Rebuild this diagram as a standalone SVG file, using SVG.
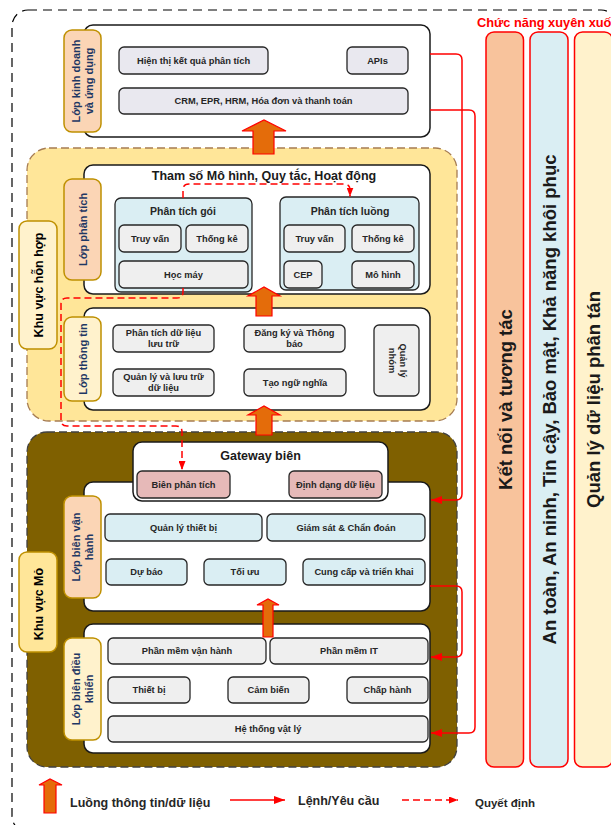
<svg xmlns="http://www.w3.org/2000/svg" width="611" height="825" viewBox="0 0 611 825">
<defs>
<style>
.layer{fill:#fff;stroke:#1a1a1a;stroke-width:1.5}
.lp{fill:#FBD5B5;stroke:#BF9000;stroke-width:1.5}
.ly{fill:#FFF2CC;stroke:#BF9000;stroke-width:1.5}
.lz{fill:#FFE699;stroke:#BF9000;stroke-width:1.5}
.box{fill:#EFEFEF;stroke:#262626;stroke-width:1.3}
.boxl{fill:#E9E8EF;stroke:#262626;stroke-width:1.3}
.boxb{fill:#DAEEF3;stroke:#262626;stroke-width:1.3}
.boxp{fill:#E6B9B8;stroke:#262626;stroke-width:1.3}
text{font-family:"Liberation Sans",Arial,sans-serif;font-weight:bold}
.t{font-size:9.3px;fill:#262626;text-anchor:middle}
.st{font-size:10.5px;fill:#262626;text-anchor:middle}
.ht{font-size:12.5px;fill:#1a1a1a;text-anchor:middle}
.lt{font-size:11px;fill:#1F3864;text-anchor:middle}
.zt{font-size:12.5px;fill:#000;text-anchor:middle}
.ct{font-size:18.5px;fill:#1a1a1a;text-anchor:middle}
.leg{font-size:12.5px;fill:#262626}
.flow{fill:#E46C0A;stroke:#FF0000;stroke-width:1.2}
.cmd{fill:none;stroke:#FF0000;stroke-width:1.5}
.dec{fill:none;stroke:#FF0000;stroke-width:1.5;stroke-dasharray:7 4}
.col{stroke:#FF0000;stroke-width:1.5}
</style>
<marker id="ah" markerWidth="11" markerHeight="8" refX="11" refY="4" orient="auto" markerUnits="userSpaceOnUse"><path d="M0,0 L11,4 L0,8 Z" fill="#FF0000"/></marker>
<marker id="ahd" markerWidth="9" markerHeight="7" refX="9" refY="3.5" orient="auto" markerUnits="userSpaceOnUse"><path d="M0,0 L9,3.5 L0,7 Z" fill="#FF0000"/></marker>
</defs>

<rect x="12" y="10" width="605" height="822" rx="16" fill="none" stroke="#000" stroke-width="1.2" stroke-dasharray="9 6"/>

<!-- zones -->
<g id="zone-hybrid">
<rect x="27" y="148" width="430" height="273" rx="22" fill="#FFE699" stroke="#A67C52" stroke-width="1.3" stroke-dasharray="8 4"/>
</g>
<g id="zone-mine">
<rect x="27" y="432" width="430" height="335" rx="20" fill="#7F6000" stroke="#404040" stroke-width="1.3" stroke-dasharray="8 4"/>
</g>
<g id="label-hybrid">
<rect x="19" y="221" width="38" height="128" rx="8" class="ly"/>
<text class="zt" transform="translate(38,285) rotate(-90)" y="4.5">Khu vực hỗn hợp</text>
</g>
<g id="label-mine">
<rect x="19" y="552" width="38" height="100" rx="8" class="lz"/>
<text class="zt" transform="translate(38,604) rotate(-90)" y="4.5">Khu vực Mỏ</text>
</g>

<!-- business layer -->
<g id="layer-business">
<rect x="84" y="25" width="346" height="112" rx="9" class="layer"/>
<rect x="64" y="30" width="37" height="102" rx="8" class="lp"/>
<text class="lt" transform="translate(82.5,81) rotate(-90)"><tspan x="0" y="-2.3">Lớp kinh doanh</tspan><tspan x="0" y="10.2">và ứng dụng</tspan></text>
</g>
<g id="n-hienthi"><rect x="119" y="47" width="149" height="27" rx="5" class="boxl"/><text class="t" x="193.5" y="63.8">Hiện thị kết quả phân tích</text></g>
<g id="n-apis"><rect x="347" y="47" width="61" height="27" rx="5" class="boxl"/><text class="t" x="377.5" y="63.8">APIs</text></g>
<g id="n-crm"><rect x="119" y="88" width="289" height="26" rx="5" class="boxl"/><text class="t" x="263.5" y="104.3">CRM, EPR, HRM, Hóa đơn và thanh toán</text></g>

<!-- analytics layer -->
<g id="layer-analytics">
<rect x="84" y="165" width="346" height="129" rx="9" class="layer"/>
<rect x="64" y="179" width="37" height="101" rx="8" class="lp"/>
<text class="lt" transform="translate(82.5,229.5) rotate(-90)" y="4">Lớp phân tích</text>
<text class="ht" x="264" y="180">Tham số Mô hình, Quy tắc, Hoạt động</text>
</g>
<g id="n-goi">
<rect x="115" y="198" width="137" height="94" rx="6" class="boxb"/>
<text class="st" x="183" y="215">Phân tích gói</text>
</g>
<g id="n-goi-truyvan"><rect x="119" y="225" width="62" height="27" rx="5" class="box"/><text class="t" x="150" y="241.8">Truy vấn</text></g>
<g id="n-goi-thongke"><rect x="186" y="225" width="62" height="27" rx="5" class="box"/><text class="t" x="217" y="241.8">Thống kê</text></g>
<g id="n-hocmay"><rect x="119" y="261" width="129" height="27" rx="5" class="box"/><text class="t" x="183.5" y="277.8">Học máy</text></g>
<g id="n-luong">
<rect x="280" y="197" width="139" height="93" rx="6" class="boxb"/>
<text class="st" x="350" y="215">Phân tích luồng</text>
</g>
<g id="n-luong-truyvan"><rect x="284" y="225" width="61" height="27" rx="5" class="box"/><text class="t" x="314.5" y="241.8">Truy vấn</text></g>
<g id="n-luong-thongke"><rect x="352" y="225" width="62" height="27" rx="5" class="box"/><text class="t" x="383" y="241.8">Thống kê</text></g>
<g id="n-cep"><rect x="284" y="261" width="38" height="27" rx="5" class="box"/><text class="t" x="303" y="277.8">CEP</text></g>
<g id="n-mohinh"><rect x="352" y="261" width="62" height="27" rx="5" class="box"/><text class="t" x="383" y="277.8">Mô hình</text></g>

<!-- information layer -->
<g id="layer-info">
<rect x="84" y="308" width="346" height="102" rx="9" class="layer"/>
<rect x="64" y="317" width="37" height="84" rx="8" class="ly"/>
<text class="lt" transform="translate(82.5,359) rotate(-90)" y="4">Lớp thông tin</text>
</g>
<g id="n-ptdl"><rect x="113" y="325" width="101" height="27" rx="5" class="box"/><text class="t"><tspan x="163.5" y="335.5">Phân tích dữ liệu</tspan><tspan x="163.5" y="346.5">lưu trữ</tspan></text></g>
<g id="n-dangky"><rect x="244" y="325" width="101" height="27" rx="5" class="box"/><text class="t"><tspan x="294.5" y="335.5">Đăng ký và Thông</tspan><tspan x="294.5" y="346.5">báo</tspan></text></g>
<g id="n-qlluutru"><rect x="113" y="369" width="101" height="27" rx="5" class="box"/><text class="t"><tspan x="163.5" y="379.5">Quản lý và lưu trữ</tspan><tspan x="163.5" y="390.5">dữ liệu</tspan></text></g>
<g id="n-taongunghia"><rect x="244" y="369" width="102" height="27" rx="5" class="box"/><text class="t" x="295" y="385.8">Tạo ngữ nghĩa</text></g>
<g id="n-qlnhom"><rect x="374" y="325" width="45" height="71" rx="5" class="box"/><text class="t" transform="translate(397,360.5) rotate(90)"><tspan x="0" y="-2.5">Quản lý</tspan><tspan x="0" y="8.5">nhóm</tspan></text></g>

<!-- operations layer -->
<g id="layer-operations">
<rect x="84" y="482" width="346" height="129" rx="9" class="layer"/>
<rect x="64" y="496" width="37" height="102" rx="8" class="lp"/>
<text class="lt" transform="translate(82.5,547) rotate(-90)"><tspan x="0" y="-2.3">Lớp biên vận</tspan><tspan x="0" y="10.2">hành</tspan></text>
</g>
<g id="n-gateway">
<rect x="133" y="442" width="255" height="59" rx="9" class="layer"/>
<text class="ht" x="260.5" y="460">Gateway biên</text>
</g>
<g id="n-bienpt"><rect x="137" y="471" width="93" height="27" rx="5" class="boxp"/><text class="t" x="183.5" y="487.8">Biên phân tích</text></g>
<g id="n-dinhdang"><rect x="289" y="471" width="93" height="27" rx="5" class="boxp"/><text class="t" x="335.5" y="487.8">Định dạng dữ liệu</text></g>
<g id="n-qltb"><rect x="105" y="514" width="157" height="27" rx="5" class="boxb"/><text class="t" x="183.5" y="530.8">Quản lý thiết bị</text></g>
<g id="n-giamsat"><rect x="267" y="514" width="158" height="27" rx="5" class="boxb"/><text class="t" x="346" y="530.8">Giám sát &amp; Chẩn đoán</text></g>
<g id="n-dubao"><rect x="106" y="559" width="81" height="26" rx="5" class="boxb"/><text class="t" x="146.5" y="575.3">Dự báo</text></g>
<g id="n-toiuu"><rect x="204" y="559" width="82" height="26" rx="5" class="boxb"/><text class="t" x="245" y="575.3">Tối ưu</text></g>
<g id="n-cungcap"><rect x="303" y="559" width="122" height="26" rx="5" class="boxb"/><text class="t" x="364" y="575.3">Cung cấp và triển khai</text></g>

<!-- control layer -->
<g id="layer-control">
<rect x="84" y="624" width="346" height="129" rx="9" class="layer"/>
<rect x="64" y="638" width="37" height="102" rx="8" class="ly"/>
<text class="lt" transform="translate(82.5,689) rotate(-90)"><tspan x="0" y="-2.3">Lớp biên điều</tspan><tspan x="0" y="10.2">khiển</tspan></text>
</g>
<g id="n-pmvh"><rect x="108" y="638" width="158" height="26" rx="5" class="box"/><text class="t" x="187" y="654.3">Phần mềm vận hành</text></g>
<g id="n-pmit"><rect x="270" y="638" width="158" height="26" rx="5" class="box"/><text class="t" x="349" y="654.3">Phần mềm IT</text></g>
<g id="n-thietbi"><rect x="108" y="677" width="82" height="26" rx="5" class="box"/><text class="t" x="149" y="693.3">Thiết bị</text></g>
<g id="n-cambien"><rect x="228" y="677" width="81" height="26" rx="5" class="box"/><text class="t" x="268.5" y="693.3">Cảm biến</text></g>
<g id="n-chaphanh"><rect x="347" y="677" width="81" height="26" rx="5" class="box"/><text class="t" x="387.5" y="693.3">Chấp hành</text></g>
<g id="n-htvl"><rect x="108" y="716" width="320" height="26" rx="5" class="box"/><text class="t" x="268" y="732.3">Hệ thống vật lý</text></g>

<!-- cross-cutting functions -->
<g id="crosscutting">
<text x="477" y="26.5" style="font-size:12.8px;fill:#FF0000">Chức năng xuyên xuốt</text>
</g>
<g id="n-ketnoi"><rect x="486" y="32" width="37.5" height="735" rx="8" fill="#F8C39C" class="col"/><text class="ct" transform="translate(505,399.5) rotate(-90)" y="6.5">Kết nối và tương tác</text></g>
<g id="n-antoan"><rect x="530" y="32" width="38" height="735" rx="8" fill="#DAEEF3" class="col"/><text class="ct" transform="translate(549,399.5) rotate(-90)" y="6.5">An toàn, An ninh, Tin cậy, Bảo mật, Khả năng khôi phục</text></g>
<g id="n-quanly"><rect x="574.5" y="32" width="38" height="735" rx="8" fill="#FFF2CC" class="col"/><text class="ct" transform="translate(593,399.5) rotate(-90)" y="6.5">Quản lý dữ liệu phân tán</text></g>

<!-- connectors -->
<g id="connectors">
<path class="flow" d="M253,154 L253,131 L242,131 L264,120 L286,131 L274,131 L274,154 Z"/>
<path class="flow" d="M256,316 L256,296 L248,296 L264,287 L280,296 L272,296 L272,316 Z"/>
<path class="flow" d="M256,435 L256,415 L248,415 L264,406 L280,415 L272,415 L272,435 Z"/>
<path class="flow" d="M263,637 L263,605 L257,605 L268,599 L279,605 L273,605 L273,637 Z"/>
<path class="dec" d="M183,198 L183,190 Q183,184 189,184 L344,184 Q350,184 350,190 L350,196.5" marker-end="url(#ahd)"/>
<path class="dec" d="M183,288 L183,292 Q183,298 177,298 L67,298 Q61,298 61,304 L61,420 Q61,426 67,426 L176,426 Q182,426 182,432 L182,470" marker-end="url(#ahd)"/>
<path class="cmd" d="M430,54 L456,54 Q462,54 462,60 L462,494 Q462,500 456,500 L431,500" marker-end="url(#ah)"/>
<path class="cmd" d="M430,110 L469,110 Q475,110 475,116 L475,727 Q475,733 469,733 L431,733" marker-end="url(#ah)"/>
<path class="cmd" d="M430,586 L456,586 Q462,586 462,592 L462,651 Q462,657 456,657 L431,657" marker-end="url(#ah)"/>
</g>

<!-- legend -->
<g id="legend">
<path class="flow" d="M44,813 L44,785 L39,785 L50,779 L62,785 L56,785 L56,813 Z"/>
<text class="leg" x="70" y="807">Luồng thông tin/dữ liệu</text>
<path class="cmd" d="M230,800 L285,800" marker-end="url(#ah)"/>
<text class="leg" x="298" y="805">Lệnh/Yêu cầu</text>
<path class="dec" d="M402,800 L458,800" marker-end="url(#ahd)"/>
<text class="leg" x="475" y="807" style="font-size:11.5px">Quyết định</text>
</g>
</svg>
